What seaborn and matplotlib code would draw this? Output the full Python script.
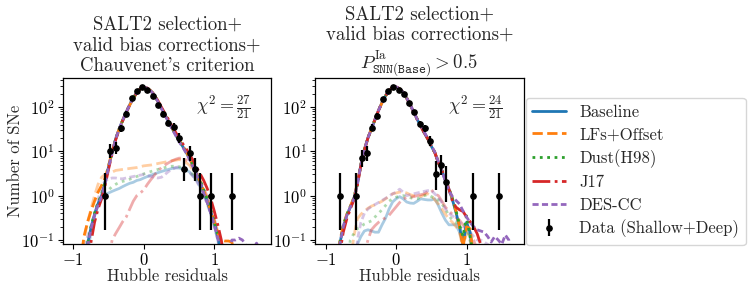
import numpy as np
import matplotlib
matplotlib.use("Agg")
import matplotlib.pyplot as plt
import seaborn as sns

# bin centres of the simulated histograms
res_grid = np.linspace(-1.0, 1.7, 55)

models = ["Baseline", "LFs+Offset", "Dust(H98)", "J17", "DES-CC"]
colors = ["#1f77b4", "#ff7f0e", "#2ca02c", "#d62728", "#9467bd"]
styles = ["-", "--", ":", "-.", (0, (2.2, 1.2))]

# ---- left panel (Chauvenet's criterion) : simulations
left_sims = {
    "Baseline": [0.001, 0.001, 0.003, 0.025, 0.08, 0.19, 0.38, 0.66, 1.0, 2.0, 4.5,
                 9.5, 19, 32, 50, 76, 112, 158, 209, 257, 275, 263,
                 229, 182, 132, 93, 66, 47, 33, 24, 17, 13, 9.5,
                 6.8, 4.6, 3.0, 2.0, 1.2, 0.75, 0.42, 0.24, 0.12, 0.05, 0.01,
                 0.001, 0.001, 0.001, 0.001, 0.001, 0.001, 0.001, 0.001, 0.001, 0.001, 0.001],
    "LFs+Offset": [0.001, 0.003, 0.03, 0.12, 0.25, 0.45, 0.75, 1.2, 1.7, 2.5, 4.8,
                   9.8, 19, 32, 50, 76, 110, 156, 208, 256, 276, 265,
                   231, 184, 133, 94, 67, 48, 34, 25, 18, 13.5, 10,
                   7.0, 4.8, 3.1, 2.1, 1.3, 0.8, 0.45, 0.26, 0.14, 0.1, 0.095,
                   0.095, 0.09, 0.03, 0.001, 0.001, 0.001, 0.001, 0.001, 0.001, 0.001, 0.001],
    "Dust(H98)": [0.001, 0.001, 0.002, 0.02, 0.08, 0.2, 0.4, 0.7, 1.05, 2.1, 4.6,
                  9.6, 19, 32, 50, 77, 113, 160, 210, 256, 272, 262,
                  230, 184, 134, 95, 68, 48, 34, 25, 18, 13.5, 10,
                  7.2, 5.0, 3.3, 2.2, 1.35, 0.85, 0.48, 0.27, 0.13, 0.06, 0.01,
                  0.001, 0.001, 0.001, 0.001, 0.001, 0.001, 0.001, 0.001, 0.001, 0.001, 0.001],
    "J17": [0.001, 0.001, 0.001, 0.005, 0.03, 0.09, 0.25, 0.5, 0.85, 1.7, 4.0,
            8.8, 18, 31, 49, 75, 111, 157, 208, 256, 274, 264,
            232, 187, 138, 99, 71, 52, 37, 27, 20, 15, 11.5,
            8.5, 6.2, 4.3, 3.1, 2.2, 1.45, 0.85, 0.45, 0.22, 0.1, 0.03,
            0.001, 0.001, 0.001, 0.001, 0.001, 0.001, 0.001, 0.001, 0.001, 0.001, 0.001],
    "DES-CC": [0.001, 0.001, 0.002, 0.02, 0.07, 0.18, 0.36, 0.62, 0.95, 1.9, 4.4,
               9.4, 19, 32, 50, 76, 112, 160, 212, 260, 278, 265,
               229, 181, 131, 92, 65, 46, 32, 23, 16.5, 12.5, 9.2,
               6.5, 4.4, 2.9, 1.9, 1.15, 0.7, 0.4, 0.22, 0.11, 0.05, 0.02,
               0.05, 0.1, 0.1, 0.11, 0.1, 0.075, 0.05, 0.06, 0.085, 0.06, 0.001],
}
left_pale = {
    "Baseline": [0.001, 0.001, 0.001, 0.01, 0.05, 0.15, 0.35, 0.6, 0.85, 1.05, 1.15,
                 1.25, 1.35, 1.45, 1.6, 1.75, 1.9, 2.0, 2.2, 2.3, 2.5, 2.7,
                 2.9, 3.1, 3.3, 3.5, 3.7, 3.9, 4.1, 4.2, 4.2, 4.0, 3.8,
                 3.4, 2.8, 2.2, 1.6, 1.1, 0.7, 0.4, 0.22, 0.1, 0.04, 0.01,
                 0.001, 0.001, 0.001, 0.001, 0.001, 0.001, 0.001, 0.001, 0.001, 0.001, 0.001],
    "LFs+Offset": [0.001, 0.001, 0.02, 0.1, 0.25, 0.5, 1.0, 1.8, 2.6, 3.0, 3.2,
                   3.4, 3.7, 3.8, 3.9, 4.0, 4.1, 4.2, 4.3, 4.5, 4.7, 4.8,
                   4.9, 5.1, 5.3, 5.5, 5.7, 5.9, 6.1, 6.3, 6.5, 6.3, 5.6,
                   4.8, 3.8, 2.8, 1.9, 1.2, 0.75, 0.45, 0.27, 0.14, 0.09, 0.04,
                   0.001, 0.001, 0.001, 0.001, 0.001, 0.001, 0.001, 0.001, 0.001, 0.001, 0.001],
    "Dust(H98)": [0.001, 0.001, 0.001, 0.01, 0.05, 0.15, 0.35, 0.65, 0.95, 1.15, 1.35,
                  1.6, 1.8, 2.0, 2.1, 2.2, 2.35, 2.5, 2.7, 2.9, 3.1, 3.3,
                  3.5, 3.7, 3.9, 4.1, 4.3, 4.5, 4.6, 4.6, 4.5, 4.2, 3.9,
                  3.5, 2.9, 2.3, 1.7, 1.2, 0.8, 0.45, 0.25, 0.12, 0.05, 0.01,
                  0.001, 0.001, 0.001, 0.001, 0.001, 0.001, 0.001, 0.001, 0.001, 0.001, 0.001],
    "J17": [0.001, 0.001, 0.001, 0.001, 0.001, 0.001, 0.001, 0.001, 0.001, 0.01, 0.04,
            0.1, 0.14, 0.19, 0.26, 0.33, 0.5, 0.75, 1.0, 1.15, 1.35, 1.8,
            2.3, 2.9, 3.6, 4.3, 4.9, 5.5, 6.1, 6.6, 7.0, 7.0, 6.4,
            5.5, 4.4, 3.3, 2.3, 1.5, 0.95, 0.55, 0.3, 0.15, 0.06, 0.01,
            0.001, 0.001, 0.001, 0.001, 0.001, 0.001, 0.001, 0.001, 0.001, 0.001, 0.001],
    "DES-CC": [0.001, 0.001, 0.005, 0.05, 0.12, 0.2, 0.35, 0.8, 1.6, 2.1, 2.4,
               2.5, 2.5, 2.4, 2.4, 2.5, 2.6, 2.7, 2.8, 2.9, 3.0, 2.8,
               2.7, 2.6, 2.5, 2.6, 3.0, 3.5, 3.9, 4.3, 4.5, 4.3, 3.8,
               3.3, 2.7, 2.1, 1.5, 1.0, 0.65, 0.38, 0.2, 0.1, 0.04, 0.01,
               0.001, 0.001, 0.001, 0.001, 0.001, 0.001, 0.001, 0.001, 0.001, 0.001, 0.001],
}

# ---- right panel (P_SNN > 0.5) : simulations
right_sims = {
    "Baseline": [0.001, 0.001, 0.003, 0.02, 0.08, 0.2, 0.36, 0.55, 0.85, 1.8, 5.0,
                 11, 20, 32, 52, 83, 126, 178, 234, 275, 282, 257,
                 214, 158, 112, 76, 52, 37, 26, 19, 13, 9.3, 5.5,
                 3.6, 2.2, 1.4, 0.8, 0.42, 0.2, 0.08, 0.25, 0.15, 0.04, 0.01,
                 0.001, 0.001, 0.001, 0.001, 0.001, 0.001, 0.001, 0.001, 0.001, 0.001, 0.001],
    "LFs+Offset": [0.001, 0.001, 0.005, 0.03, 0.09, 0.22, 0.38, 0.58, 0.9, 1.9, 5.1,
                   11, 20, 32, 52, 82, 125, 177, 233, 274, 282, 258,
                   215, 159, 113, 77, 53, 37, 26, 19, 13, 9.4, 5.6,
                   3.7, 2.3, 1.45, 0.85, 0.45, 0.2, 0.07, 0.2, 0.18, 0.04, 0.01,
                   0.001, 0.001, 0.001, 0.001, 0.001, 0.001, 0.001, 0.001, 0.001, 0.001, 0.001],
    "Dust(H98)": [0.001, 0.001, 0.004, 0.025, 0.085, 0.21, 0.37, 0.56, 0.88, 1.85, 5.0,
                  11, 20, 32, 52, 83, 126, 178, 233, 274, 281, 257,
                  214, 159, 113, 77, 53, 37, 26, 19, 13, 9.4, 5.6,
                  3.7, 2.3, 1.45, 0.85, 0.45, 0.22, 0.12, 0.35, 0.12, 0.04, 0.01,
                  0.001, 0.001, 0.001, 0.001, 0.001, 0.001, 0.001, 0.001, 0.001, 0.001, 0.001],
    "J17": [0.001, 0.001, 0.001, 0.01, 0.05, 0.15, 0.3, 0.5, 0.8, 1.7, 4.8,
            10.5, 20, 32, 52, 83, 126, 178, 234, 275, 282, 257,
            214, 158, 112, 76, 52, 37, 26, 19, 13, 9.3, 5.6,
            3.7, 2.3, 1.4, 0.75, 0.55, 0.48, 0.44, 0.33, 0.26, 0.2, 0.14,
            0.08, 0.02, 0.001, 0.001, 0.001, 0.001, 0.001, 0.001, 0.001, 0.001, 0.001],
    "DES-CC": [0.001, 0.001, 0.003, 0.02, 0.08, 0.2, 0.36, 0.55, 0.85, 1.8, 5.0,
               11, 20, 32, 52, 83, 126, 178, 234, 275, 283, 258,
               215, 159, 113, 77, 53, 38, 27, 19.5, 13.5, 9.6, 5.8,
               3.6, 2.1, 1.3, 0.95, 0.78, 0.65, 0.45, 0.33, 0.25, 0.2, 0.17,
               0.16, 0.15, 0.12, 0.09, 0.12, 0.1, 0.08, 0.13, 0.1, 0.001, 0.001],
}
right_pale = {
    "Baseline": [0.001, 0.001, 0.001, 0.001, 0.001, 0.001, 0.001, 0.001, 0.01, 0.08, 0.12,
                 0.16, 0.17, 0.16, 0.15, 0.15, 0.22, 0.31, 0.5, 0.72, 0.85, 0.95,
                 0.85, 0.72, 0.68, 0.67, 0.75, 0.85, 0.82, 0.8, 0.8, 0.85, 0.6,
                 0.4, 0.28, 0.22, 0.22, 0.22, 0.15, 0.08, 0.2, 0.12, 0.03, 0.001,
                 0.001, 0.001, 0.001, 0.001, 0.001, 0.001, 0.001, 0.001, 0.001, 0.001, 0.001],
    "LFs+Offset": [0.001, 0.001, 0.001, 0.001, 0.001, 0.001, 0.001, 0.03, 0.12, 0.3, 0.38,
                   0.45, 0.52, 0.58, 0.62, 0.68, 0.75, 0.85, 0.95, 1.1, 1.15, 1.2,
                   1.2, 1.15, 1.05, 1.0, 0.95, 0.95, 1.05, 1.1, 1.0, 0.8, 0.65,
                   0.5, 0.38, 0.3, 0.25, 0.2, 0.15, 0.06, 0.15, 0.1, 0.03, 0.001,
                   0.001, 0.001, 0.001, 0.001, 0.001, 0.001, 0.001, 0.001, 0.001, 0.001, 0.001],
    "Dust(H98)": [0.001, 0.001, 0.001, 0.001, 0.001, 0.001, 0.03, 0.1, 0.14, 0.18, 0.2,
                  0.23, 0.25, 0.27, 0.33, 0.4, 0.48, 0.6, 0.75, 0.85, 0.92, 0.98,
                  1.0, 0.95, 0.9, 0.86, 0.85, 0.92, 1.0, 1.05, 0.95, 0.88, 0.8,
                  0.65, 0.5, 0.35, 0.28, 0.25, 0.2, 0.12, 0.22, 0.1, 0.03, 0.001,
                  0.001, 0.001, 0.001, 0.001, 0.001, 0.001, 0.001, 0.001, 0.001, 0.001, 0.001],
    "J17": [0.001, 0.001, 0.001, 0.001, 0.001, 0.001, 0.001, 0.001, 0.001, 0.001, 0.001,
            0.05, 0.1, 0.17, 0.21, 0.25, 0.28, 0.32, 0.36, 0.45, 0.56, 0.7,
            0.85, 0.9, 0.92, 0.95, 1.0, 1.05, 1.1, 1.25, 1.35, 1.1, 1.0,
            0.75, 0.55, 0.45, 0.38, 0.32, 0.28, 0.22, 0.18, 0.14, 0.1, 0.06,
            0.02, 0.001, 0.001, 0.001, 0.001, 0.001, 0.001, 0.001, 0.001, 0.001, 0.001],
    "DES-CC": [0.001, 0.001, 0.001, 0.001, 0.001, 0.001, 0.001, 0.001, 0.001, 0.1, 0.25,
               0.4, 0.5, 0.57, 0.63, 0.7, 0.78, 0.87, 0.98, 1.1, 1.2, 1.4,
               1.2, 1.0, 1.05, 1.1, 1.15, 1.2, 1.25, 1.3, 1.3, 1.1, 0.9,
               0.7, 0.5, 0.4, 0.35, 0.3, 0.25, 0.2, 0.18, 0.15, 0.12, 0.1,
               0.1, 0.09, 0.08, 0.001, 0.001, 0.001, 0.001, 0.001, 0.001, 0.001, 0.001],
}

# ---- observed data (Shallow+Deep)
left_data_x = [-0.55, -0.475, -0.4, -0.325, -0.25, -0.175, -0.1, -0.025, 0.05, 0.125,
               0.2, 0.275, 0.35, 0.425, 0.5, 0.575, 0.65, 0.725, 0.8, 0.95, 1.25]
left_data_n = [1, 10, 12, 33, 70, 157, 230, 285, 240, 178,
               111, 70, 43, 36, 20, 4, 9, 4, 1, 1, 1]
right_data_x = [-0.79, -0.565, -0.49, -0.415, -0.34, -0.265, -0.19, -0.115, -0.04, 0.035,
                0.11, 0.185, 0.26, 0.335, 0.41, 0.485, 0.56, 0.635, 0.71, 1.085, 1.46]
right_data_n = [1, 1, 7, 9, 34, 63, 148, 233, 285, 240,
                193, 121, 76, 41, 33, 17, 3, 5, 2, 1, 1]

chi2_text = [r"$\chi^2 = \frac{27}{21}$", r"$\chi^2 = \frac{24}{21}$"]
titles = ["SALT2 selection+\nvalid bias corrections+\nChauvenet's criterion",
          "SALT2 selection+\nvalid bias corrections+\n"
          r"$P^{\mathrm{Ia}}_{\mathtt{SNN(Base)}} > 0.5$"]

sns.set_style("ticks")
plt.rcParams["font.family"] = ["cmr10", "DejaVu Serif"]
plt.rcParams["mathtext.fontset"] = "cm"
plt.rcParams["axes.formatter.use_mathtext"] = True
plt.rcParams["axes.edgecolor"] = "black"
plt.rcParams["xtick.color"] = "black"
plt.rcParams["ytick.color"] = "black"
plt.rcParams["xtick.major.size"] = 3.5
plt.rcParams["ytick.major.size"] = 3.5
plt.rcParams["ytick.minor.size"] = 2
plt.rcParams["xtick.major.pad"] = 2
plt.rcParams["ytick.major.pad"] = 2.5
plt.rcParams["axes.linewidth"] = 0.9


def poisson_err(n):
    # Gehrels (1986) 1-sigma approximations
    n = np.asarray(n, dtype=float)
    up = n + np.sqrt(n + 0.75) + 1.0
    lo = n * (1.0 - 1.0 / (9.0 * n) - 1.0 / (3.0 * np.sqrt(n))) ** 3
    return np.vstack([n - lo, up - n])


fig, axes = plt.subplots(1, 2, figsize=(7.48, 2.93), dpi=100)
fig.subplots_adjust(left=0.084, right=0.70, bottom=0.167, top=0.734, wspace=0.21)

panels = [(left_sims, left_pale, left_data_x, left_data_n),
          (right_sims, right_pale, right_data_x, right_data_n)]

for i, (ax, (sims, pale, dx, dn)) in enumerate(zip(axes, panels)):
    # faint curves
    for name, col, ls in zip(models, colors, styles):
        sns.lineplot(x=res_grid, y=pale[name], ax=ax, color=col, linestyle=ls,
                     lw=2, alpha=0.38, label="_nolegend_")
    # simulations
    for name, col, ls in zip(models, colors, styles):
        sns.lineplot(x=res_grid, y=sims[name], ax=ax, color=col, linestyle=ls,
                     lw=2, label=name)
    ax.errorbar(dx, dn, yerr=poisson_err(dn), fmt="o", color="black", ms=3.8,
                elinewidth=1.6, capsize=0, label="Data (Shallow+Deep)", zorder=5)

    ax.set_yscale("log")
    ax.set_ylim(0.081, 450)
    ax.set_xlim(-1.15, 1.81)
    ax.set_xticks([-1, 0, 1])
    ax.tick_params(labelsize=12)
    ax.set_xlabel("Hubble residuals", fontsize=12, labelpad=1)
    ax.set_title(titles[i], fontsize=13.5, linespacing=1.2, pad=5)
    ax.text(0.77, 0.82, chi2_text[i], transform=ax.transAxes, fontsize=13,
            ha="center", va="center")
    if ax.get_legend() is not None:
        ax.get_legend().remove()

axes[0].set_ylabel("Number of SNe", fontsize=12, labelpad=-1)

handles, labels = axes[1].get_legend_handles_labels()
axes[1].legend(handles, labels, loc="lower left", bbox_to_anchor=(1.01, -0.005),
               fontsize=12, frameon=True, borderaxespad=0.0, labelspacing=0.42)

plt.savefig("out.png", dpi=100)
